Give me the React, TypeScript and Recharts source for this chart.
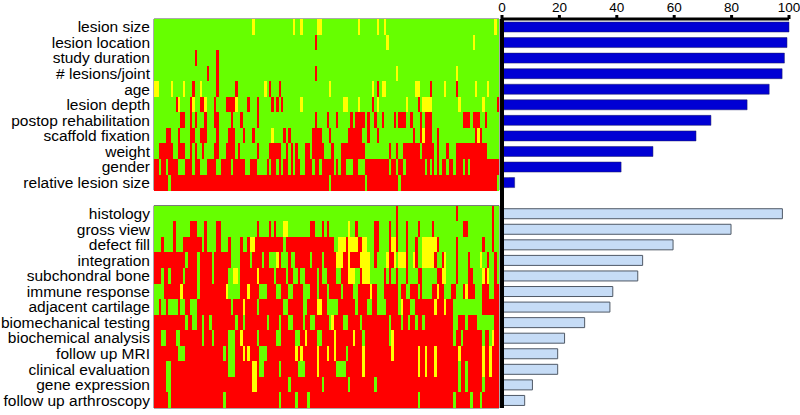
import { BarChart, Bar, XAxis, YAxis, Cell, ReferenceArea, ReferenceLine } from 'recharts';

// criteria and their scores (% of studies reporting)
const TOP_LABELS = [
  'lesion size', 'lesion location', 'study duration', '# lesions/joint', 'age', 'lesion depth',
  'postop rehabilitation', 'scaffold fixation', 'weight', 'gender', 'relative lesion size',
];
const TOP_SCORES = [100, 99.3, 98.4, 97.6, 93.1, 85.4, 72.8, 67.6, 52.6, 41.5, 4.4];

const BOTTOM_LABELS = [
  'histology', 'gross view', 'defect fill', 'integration', 'subchondral bone', 'immune response',
  'adjacent cartilage', 'biomechanical testing', 'biochemical analysis', 'follow up MRI',
  'clinical evaluation', 'gene expression', 'follow up arthroscopy',
];
const BOTTOM_SCORES = [97.7, 79.8, 59.6, 49, 47.3, 38.6, 37.6, 28.8, 21.8, 19.4, 19.4, 10.6, 7.9];

const SCORE_TICKS = [0, 20, 40, 60, 80, 100];

// one column per study; each row is written as runs: g = green, y = yellow, r = red
const N_STUDIES = 144;
const TOP_GRID = [
  'g41 y1 g16 y1 g2 y1 g6 y2 g15 y1 g7 y1 g2 y1 g45 y1 g1',
  'g67 r1 g29 y1 g35 y1 g10',
  'g17 r1 g8 r1 g117',
  'g22 r1 g3 r1 g40 r1 g33 y1 g24 y1 g17',
  'y2 g5 y1 g4 y1 g3 r1 g2 y1 g6 r1 g7 r1 g11 y1 g1 r1 g3 r1 g20 y1 g17 y1 g1 r1 g1 y2 g12 y2 g4 r1 g5 y1 g4 r1 g7 y1 g4 y1 g4',
  'g9 r1 y1 g4 r1 y1 g2 r2 y1 g3 r1 g4 r4 y1 g4 r1 g3 r1 g5 r1 g1 r1 g1 r1 g7 y1 g17 y2 g4 y1 g5 r1 g1 y1 g11 y1 g4 r1 g1 y4 g11 y1 g9 y1 g5 r1',
  'g11 r2 g2 r1 g1 r1 g3 r1 g3 r2 g5 r1 g3 r1 g6 r1 g23 r1 g4 r1 g3 r1 g5 r1 g1 r4 g1 r1 g2 r1 g2 r1 g4 r1 g1 r3 g2 r1 g3 r1 g1 r3 g13 r3 g1 r3 g2 r1 g5',
  'g5 r2 g3 r1 g4 r2 g2 r3 g4 r1 g4 r3 g3 r1 g3 r1 g7 y1 g4 r1 g1 r1 g9 r4 g3 r1 g7 r6 g2 r1 g3 r1 g14 r1 g2 r1 y1 r3 g2 r1 g15 r1 y1 r1 g7',
  'g2 r6 g2 r3 g2 r1 g1 r1 g2 r1 g4 r2 g3 r4 g1 r1 g7 r1 g4 r5 g2 r1 g1 r1 g1 r1 g3 r2 g1 r5 g3 r1 g3 r10 g8 g2 r1 g2 r1 g2 r7 g1 r5 g1 r1 g3 r1 g3 r13 g5',
  'r2 g1 r2 g1 r4 g3 r3 g1 r2 g3 r4 g2 r4 g1 r5 g2 r3 g4 r1 g1 r2 g1 r1 g1 r2 g1 r1 g1 r2 g2 r3 g1 r2 g1 r5 g1 r1 g1 r2 g3 r2 g3 r8 r2 g1 r2 g1 r2 g1 r8 g1 r1 g1 r1 g1 r1 g1 r2 g1 r2 g1 r3 g1 r1 g1 r12',
  'r6 g1 r66 g1 r14 g1 r13 g1 r40 g1',
];
const BOTTOM_GRID = [
  'g101 r1 g24 r1 g14 r1 g2',
  'g8 r1 g6 r3 g3 r1 g4 r2 g15 r1 g4 r1 g1 r1 g3 y2 g9 r2 g3 r1 g1 r1 g8 y1 g2 r1 g7 r2 g4 r1 g2 r1 g3 r1 g4 r1 g5 r1 g12 r2 g10 r1 g2',
  'g3 r1 g4 r1 g3 r8 g1 r1 g4 r2 g3 r1 g4 r1 g2 r1 y2 r6 r6 g1 r20 g2 y3 r1 y4 r2 y2 g3 r2 g2 g2 r1 y2 r1 g3 r1 g3 r1 g2 y6 r1 g7 r1 g10 r1 g3 r1 g2',
  'r13 g1 r4 g1 r5 g1 r7 g4 r4 g1 r4 g1 r2 g3 y1 r1 g3 r1 g2 r6 g1 r4 g1 r5 y3 r2 y1 r4 y4 g2 r1 g3 g1 y1 r2 y1 g1 y3 r1 g2 y1 r1 g2 y5 r1 g2 r1 y1 g4 r1 g4 r1 g4 y1 g2 r1 g2 r1 g1',
  'r3 g1 r2 g1 r5 g1 r5 g1 r5 g1 r6 g2 y2 g1 r7 y1 r4 r2 g1 r4 g1 r2 g2 r1 g2 r5 g1 r1 g2 r4 g2 r3 y3 g2 r1 y3 g6 r1 g1 r1 g2 r1 g3 r1 g4 r2 g6 r2 y2 g4 r1 g4 r2 g4 y1 r1 y1 g2 r1 g1',
  'g4 r7 y1 r6 g1 r11 y1 g5 r3 y1 r4 g3 r1 r3 g2 r3 g2 r4 g3 r3 g1 r3 g1 r5 g1 r4 g2 r5 y1 r2 g3 r6 g1 r2 g2 r3 g1 r1 g4 r2 y1 r2 g3 r2 g3 r1 y1 r3 g3 r3 g2 r2',
  'g2 r1 g2 r1 g4 r1 g2 r2 g3 r14 g1 r4 y1 r5 g1 r4 r6 g2 r6 g2 r4 y2 r2 g5 r7 g1 r4 g2 r2 g3 g1 r5 g1 y1 r3 g2 r8 y1 r3 y1 r3 g12 r7',
  'r13 g1 r2 g2 r2 g1 r2 g1 r10 g1 r2 g1 r9 g1 r4 g1 r3 g2 r4 g1 r2 g2 r6 g1 y1 r4 g2 r5 g1 r9 r2 g1 r4 g1 r2 g1 r2 g1 r2 g1 r12 g2 r3 g1 r4 g7 r2',
  'r3 g2 r4 g2 r9 g1 r3 g1 r6 g3 r2 y1 r6 g1 r4 r3 g2 r6 g2 r2 y1 r4 g2 r5 y1 r7 y1 r3 g1 r8 r2 g1 y1 r25 g1 r2 g1 r8 g1 r2 g1 y1 r2',
  'r10 g3 r16 g1 r1 g3 r3 y1 r1 y1 r4 g3 r1 r11 y1 r1 y1 r6 y1 r3 y1 r2 y1 r4 g1 r6 y1 r8 r3 y1 r10 y1 r2 y1 r3 y1 r9 y1 r9 y1 r2 y1 r3',
  'r5 g2 r24 g3 r7 y2 r1 g2 r2 r4 g1 r7 g3 r5 y1 r7 g4 r7 y1 r8 r14 y1 r2 y1 r3 y1 r9 g1 r2 g1 r6 y1 r2 y1 r3',
  'r5 g2 r34 y2 r5 r8 g1 r13 g1 r10 g1 r10 g1 r3 r31 g1 r2 g1 r6 g1 r6',
  'r6 g1 r22 g1 r18 r4 g1 r6 g1 r4 g1 r31 r14 g1 r14 g1 r6 g1 r3 g1 r7',
];

const CELL_COLORS: Record<string, string> = { g: '#66ff00', y: '#ffff00', r: '#ff0000' };
const FONT = '"Liberation Sans", Arial, Helvetica, sans-serif';

function expand(runs: string): string[] {
  const out: string[] = [];
  runs.trim().split(/\s+/).forEach((tok) => {
    const n = parseInt(tok.slice(1), 10);
    for (let k = 0; k < n; k++) out.push(tok[0]);
  });
  return out;
}

// a blank row separates the two groups
const GAP = ' ';
const ROW_LABELS = [...TOP_LABELS, GAP, ...BOTTOM_LABELS];
const GRID: (string[] | null)[] = [...TOP_GRID.map(expand), null, ...BOTTOM_GRID.map(expand)];

const heatData = ROW_LABELS.map((label, i) => {
  const row: Record<string, any> = { label };
  for (let j = 0; j < N_STUDIES; j++) row['c' + j] = GRID[i] ? 1 : 0;
  return row;
});

const scoreData = ROW_LABELS.map((label, i) => ({
  label,
  top: i < TOP_LABELS.length ? TOP_SCORES[i] : null,
  bottom: i > TOP_LABELS.length ? BOTTOM_SCORES[i - TOP_LABELS.length - 1] : null,
}));

const H = 415;
const MARGIN_TOP = 19;
const MARGIN_BOTTOM = 7;

export default function App() {
  return (
    <div style={{ position: 'absolute', left: 0, top: 0, width: 800, height: H, background: '#fff', fontFamily: FONT }}>
      <div style={{ position: 'absolute', left: 0, top: 0 }}>
        <BarChart
          width={500}
          height={H}
          data={heatData}
          layout="vertical"
          barCategoryGap={0}
          barGap={0}
          margin={{ top: MARGIN_TOP, right: 1, bottom: MARGIN_BOTTOM, left: 0 }}
        >
          <XAxis type="number" domain={[0, N_STUDIES]} hide />
          <YAxis
            type="category"
            dataKey="label"
            width={154}
            interval={0}
            axisLine={false}
            tickLine={false}
            tickSize={0}
            tickMargin={4}
            tick={{ fontSize: 15.5, fill: '#000', fontFamily: FONT }}
          />
          {Array.from({ length: N_STUDIES }, (_, j) => (
            <Bar key={j} dataKey={'c' + j} stackId="h" isAnimationActive={false} shapeRendering="crispEdges">
              {heatData.map((_, i) => (
                <Cell key={i} fill={GRID[i] ? CELL_COLORS[GRID[i]![j]] || 'none' : 'none'} />
              ))}
            </Bar>
          ))}
          <ReferenceArea x1={0} x2={N_STUDIES} y1={TOP_LABELS[0]} y2={TOP_LABELS[TOP_LABELS.length - 1]}
            fill="none" stroke="#555" strokeWidth={1} />
          <ReferenceArea x1={0} x2={N_STUDIES} y1={BOTTOM_LABELS[0]} y2={BOTTOM_LABELS[BOTTOM_LABELS.length - 1]}
            fill="none" stroke="#555" strokeWidth={1} />
        </BarChart>
      </div>
      <div style={{ position: 'absolute', left: 480, top: 0 }}>
        <BarChart
          width={320}
          height={H}
          data={scoreData}
          layout="vertical"
          margin={{ top: 0, right: 11, bottom: MARGIN_BOTTOM, left: 22 }}
        >
          <XAxis
            type="number"
            orientation="top"
            domain={[0, 100]}
            ticks={SCORE_TICKS}
            interval={0}
            height={MARGIN_TOP}
            axisLine={{ stroke: '#000', strokeWidth: 3 }}
            tickLine={{ stroke: '#000', strokeWidth: 3 }}
            tickSize={4}
            tickMargin={3}
            tick={{ fontSize: 13.5, fill: '#000', fontFamily: FONT }}
          />
          <YAxis type="category" dataKey="label" hide />
          <Bar dataKey="top" stackId="s" barSize={10} fill="#0000d4" stroke="#1c1c60" strokeWidth={0.5} isAnimationActive={false} />
          <Bar dataKey="bottom" stackId="s" barSize={10} fill="#c6dcf6" stroke="#4f5966" strokeWidth={1} isAnimationActive={false} />
          <ReferenceLine x={0} stroke="#000" strokeWidth={4} />
        </BarChart>
      </div>
    </div>
  );
}
